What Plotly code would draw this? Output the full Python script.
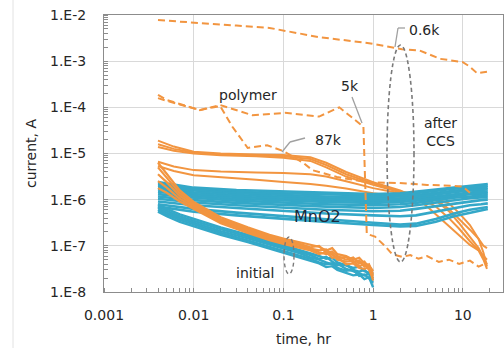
import plotly.graph_objects as go

ORANGE = "#F29540"
CYAN = "#34A8C8"

# ---------------- data (time in hr, current as log10 of A) ----------------
# polymer capacitors, solid (after CCS, long term)
t_poly = [0.004, 0.006, 0.01, 0.02, 0.05, 0.1, 0.2, 0.3, 0.5, 1, 2, 3, 4, 5, 7, 9, 12, 15, 17, 18.6]
poly_a = [-4.72, -4.85, -4.96, -5.00, -5.02, -5.03, -5.08, -5.20, -5.40, -5.62, -5.80, -5.95, -6.15, -6.32, -6.58, -6.78, -6.98, -7.10, -7.22, -7.30]
poly_b = [-4.80, -4.90, -4.98, -5.02, -5.04, -5.06, -5.12, -5.25, -5.45, -5.65, -5.82, -5.88, -5.94, -6.00, -6.20, -6.40, -6.65, -6.85, -7.00, -7.05]
poly_c = [-4.86, -4.94, -5.00, -5.04, -5.06, -5.09, -5.16, -5.30, -5.50, -5.68, -5.84, -5.90, -5.95, -5.98, -6.08, -6.28, -6.55, -6.85, -7.15, -7.45]
poly_d = [-5.18, -5.28, -5.36, -5.39, -5.41, -5.42, -5.45, -5.50, -5.60, -5.75, -5.86, -5.92, -5.96, -6.02, -6.25, -6.50, -6.80, -7.05, -7.25, -7.40]
poly_e = [-5.27, -5.38, -5.47, -5.52, -5.57, -5.62, -5.66, -5.70, -5.76, -5.86, -5.93, -5.98, -6.05, -6.15, -6.40, -6.62, -6.90, -7.10, -7.30, -7.50]

# MnO2 capacitors (cyan band)
t_mno2 = [0.004, 0.006, 0.01, 0.03, 0.1, 0.3, 1, 2, 3, 5, 8, 12, 16, 19]
mno2_1 = [-5.62, -5.68, -5.74, -5.79, -5.82, -5.85, -5.88, -5.86, -5.83, -5.78, -5.74, -5.70, -5.68, -5.66]
mno2_2 = [-5.66, -5.72, -5.77, -5.83, -5.86, -5.89, -5.91, -5.90, -5.86, -5.82, -5.76, -5.74, -5.71, -5.70]
mno2_3 = [-5.70, -5.75, -5.80, -5.86, -5.90, -5.93, -5.95, -5.93, -5.90, -5.85, -5.80, -5.77, -5.75, -5.74]
mno2_4 = [-5.74, -5.79, -5.84, -5.90, -5.94, -5.97, -5.99, -5.97, -5.94, -5.88, -5.84, -5.80, -5.79, -5.78]
mno2_5 = [-5.78, -5.83, -5.88, -5.94, -5.98, -6.01, -6.03, -6.01, -5.98, -5.93, -5.88, -5.85, -5.82, -5.83]
mno2_6 = [-5.83, -5.87, -5.92, -5.98, -6.02, -6.05, -6.07, -6.05, -6.02, -5.97, -5.92, -5.88, -5.87, -5.86]
mno2_7 = [-5.88, -5.92, -5.96, -6.02, -6.07, -6.10, -6.12, -6.10, -6.07, -6.01, -5.96, -5.93, -5.91, -5.90]
mno2_8 = [-5.93, -5.97, -6.01, -6.07, -6.12, -6.15, -6.18, -6.16, -6.12, -6.06, -6.01, -5.97, -5.95, -5.95]
mno2_9 = [-5.98, -6.02, -6.06, -6.12, -6.18, -6.22, -6.25, -6.24, -6.20, -6.14, -6.08, -6.04, -6.01, -6.00]
mno2_10 = [-6.04, -6.08, -6.12, -6.18, -6.25, -6.30, -6.34, -6.36, -6.34, -6.26, -6.18, -6.12, -6.10, -6.08]
mno2_11 = [-6.10, -6.15, -6.20, -6.28, -6.36, -6.42, -6.50, -6.54, -6.52, -6.42, -6.30, -6.22, -6.18, -6.16]
mno2_12 = [-6.15, -6.20, -6.26, -6.34, -6.42, -6.48, -6.55, -6.58, -6.57, -6.48, -6.36, -6.28, -6.22, -6.20]

# initial measurements (first hour)
t_init = [0.004, 0.005, 0.007, 0.01, 0.02, 0.04, 0.07, 0.1, 0.15, 0.2, 0.25, 0.3, 0.35, 0.4, 0.5, 0.6, 0.7, 0.8, 0.9, 1.0]
cyan_init_1 = [-6.10, -6.20, -6.32, -6.42, -6.60, -6.76, -6.90, -6.98, -7.08, -7.16, -7.22, -7.28, -7.26, -7.36, -7.42, -7.48, -7.45, -7.55, -7.58, -7.62]
cyan_init_2 = [-6.14, -6.24, -6.36, -6.46, -6.64, -6.80, -6.94, -7.03, -7.12, -7.20, -7.28, -7.24, -7.34, -7.42, -7.40, -7.52, -7.56, -7.52, -7.62, -7.70]
cyan_init_3 = [-6.18, -6.28, -6.40, -6.50, -6.68, -6.84, -6.98, -7.07, -7.16, -7.25, -7.30, -7.36, -7.40, -7.38, -7.50, -7.55, -7.60, -7.64, -7.60, -7.75]
cyan_init_4 = [-6.22, -6.32, -6.44, -6.54, -6.72, -6.88, -7.02, -7.11, -7.21, -7.28, -7.36, -7.40, -7.38, -7.48, -7.54, -7.52, -7.65, -7.62, -7.70, -7.80]
cyan_init_5 = [-6.26, -6.36, -6.48, -6.58, -6.76, -6.92, -7.06, -7.15, -7.25, -7.33, -7.38, -7.46, -7.44, -7.52, -7.58, -7.64, -7.62, -7.72, -7.68, -7.90]
orange_init_1 = [-5.20, -5.45, -5.80, -6.05, -6.38, -6.60, -6.76, -6.84, -6.92, -6.98, -7.02, -7.10, -7.05, -7.18, -7.22, -7.30, -7.26, -7.38, -7.42, -7.55]
orange_init_2 = [-5.30, -5.52, -5.86, -6.09, -6.42, -6.63, -6.79, -6.87, -6.95, -7.03, -7.00, -7.15, -7.12, -7.22, -7.30, -7.25, -7.38, -7.34, -7.48, -7.60]
orange_init_3 = [-5.45, -5.62, -5.92, -6.12, -6.45, -6.66, -6.82, -6.90, -6.98, -7.06, -7.10, -7.08, -7.20, -7.26, -7.24, -7.36, -7.32, -7.45, -7.40, -7.65]
orange_init_4 = [-5.60, -5.74, -5.98, -6.16, -6.48, -6.69, -6.85, -6.93, -7.01, -7.08, -7.14, -7.18, -7.16, -7.30, -7.34, -7.32, -7.44, -7.40, -7.52, -7.70]
orange_init_5 = [-5.75, -5.85, -6.04, -6.20, -6.51, -6.72, -6.88, -6.96, -7.04, -7.10, -7.18, -7.14, -7.26, -7.24, -7.40, -7.38, -7.48, -7.50, -7.46, -7.75]

# dashed polymer curves (after CCS)
t_06k = [0.004, 0.01, 0.03, 0.07, 0.25, 0.9, 1.5, 2.1, 3.3, 5.6, 10, 12, 14.4, 18.6]
cur_06k = [-2.11, -2.17, -2.23, -2.28, -2.48, -2.61, -2.69, -2.74, -2.77, -2.95, -3.02, -3.12, -3.26, -3.23]
t_5k = [0.004, 0.005, 0.0117, 0.0197, 0.045, 0.104, 0.25, 0.42, 0.78, 0.85, 1.05, 1.35, 1.63, 2.1, 2.6, 3.2, 4, 5.4, 7, 9.1, 12, 15, 17.6]
cur_5k = [-3.73, -3.84, -4.06, -3.95, -4.17, -4.12, -4.20, -4.00, -4.42, -6.74, -6.80, -7.00, -7.18, -7.24, -7.20, -7.28, -7.22, -7.35, -7.30, -7.39, -7.32, -7.45, -7.39]
t_87k = [0.004, 0.005, 0.0117, 0.0197, 0.027, 0.04, 0.066, 0.1, 0.166, 0.21, 0.395, 0.85, 1.97, 4, 8, 10, 12]
cur_87k = [-3.80, -3.86, -4.06, -3.97, -4.42, -4.88, -4.82, -4.95, -5.20, -5.36, -5.51, -5.62, -5.64, -5.68, -5.70, -5.72, -5.85]

# ---------------- figure ----------------
fig = go.Figure()


def add_line(t, logs, color, dash=None, width=2.0):
    fig.add_trace(go.Scatter(
        x=t, y=[10 ** v for v in logs], mode="lines",
        line=dict(color=color, width=width, dash=dash),
        hoverinfo="skip", showlegend=False))


for s in [poly_a, poly_b, poly_c, poly_d, poly_e]:
    add_line(t_poly, s, ORANGE)
for s in [mno2_1, mno2_2, mno2_3, mno2_4, mno2_5, mno2_6, mno2_7, mno2_8,
          mno2_9, mno2_10, mno2_11, mno2_12]:
    add_line(t_mno2, s, CYAN, width=2.6)
for s in [cyan_init_1, cyan_init_2, cyan_init_3, cyan_init_4, cyan_init_5]:
    add_line(t_init, s, CYAN, width=2.4)
for s in [orange_init_1, orange_init_2, orange_init_3, orange_init_4, orange_init_5]:
    add_line(t_init, s, ORANGE, width=2.2)
add_line(t_06k, cur_06k, ORANGE, dash="7px,4px")
add_line(t_5k, cur_5k, ORANGE, dash="7px,4px")
add_line(t_87k, cur_87k, ORANGE, dash="7px,4px")

# plot geometry (pixels) for annotation placement
L, R, T, B = 104, 503, 15, 292
XR = [-3, -3 + (R - L) / 89.7]
YR = [-8, -2]


def lx(px):
    return XR[0] + (px - L) / (R - L) * (XR[1] - XR[0])


def ly(py):
    return YR[1] - (py - T) / (B - T) * (YR[1] - YR[0])


def fx(px):
    return (px - L) / (R - L)


def fy(py):
    return (B - py) / (B - T)


shapes = []
# dashed ellipses
shapes.append(dict(type="circle", xref="paper", yref="paper", x0=fx(387), x1=fx(414), y0=fy(262), y1=fy(45),
                   line=dict(color="#7a7a7a", width=1.6, dash="4px,3px")))
shapes.append(dict(type="circle", xref="paper", yref="paper", x0=fx(284), x1=fx(294), y0=fy(274), y1=fy(237),
                   line=dict(color="#7a7a7a", width=1.4, dash="4px,3px")))
# pointer lines
for (a, b) in [((405, 28), (398, 28)), ((398, 28), (395, 47)),
               ((352, 97), (362, 123)),
               ((305, 138), (290, 142)), ((290, 142), (282, 152))]:
    shapes.append(dict(type="line", xref="paper", yref="paper", x0=fx(a[0]), y0=fy(a[1]), x1=fx(b[0]), y1=fy(b[1]),
                       line=dict(color="#a0a0a0", width=1.3)))
# faint outer frame line on the left
shapes.append(dict(type="line", xref="paper", yref="paper", x0=fx(13), x1=fx(13),
                   y0=fy(0), y1=fy(348), line=dict(color="#e2e2e2", width=1)))

FONT = "DejaVu Sans"
TXT = "#262626"
annotations = []


def note(text, px, py, size=14, color=TXT, bg=None):
    d = dict(text=text, x=fx(px), y=fy(py), xref="paper", yref="paper", showarrow=False,
             font=dict(family=FONT, size=size, color=color), xanchor="center", yanchor="middle")
    if bg:
        d["bgcolor"] = bg
    annotations.append(d)


note("0.6k", 424, 30)
note("5k", 350, 86)
note("polymer", 248, 95)
note("87k", 328, 140)
note("after<br>CCS", 440, 132, bg="white")
note("MnO2", 317, 217, size=16, color="#1b2a3c")
note("initial", 255, 273)

fig.update_layout(
    width=504, height=348,
    margin=dict(l=L, r=504 - R, t=T, b=348 - B, pad=0),
    paper_bgcolor="white", plot_bgcolor="white",
    shapes=shapes, annotations=annotations,
    font=dict(family=FONT, size=14, color=TXT),
)

fig.update_xaxes(
    type="log", range=XR,
    tickvals=[0.001, 0.01, 0.1, 1, 10], ticktext=["0.001", "0.01", "0.1", "1", "10"],
    ticks="", showgrid=True, gridcolor="#d9d9d9", gridwidth=1,
    showline=True, linecolor="#8c8c8c", linewidth=1, mirror=True,
    zeroline=False,
    tickfont=dict(family=FONT, size=14, color=TXT),
    ticklabelstandoff=10,
    minor=dict(ticks="inside", ticklen=4, tickcolor="#8c8c8c", dtick="D1", showgrid=False),
    title=dict(text="time, hr", font=dict(family=FONT, size=14, color=TXT), standoff=12),
)
fig.update_yaxes(
    type="log", range=YR,
    tickvals=[1e-8, 1e-7, 1e-6, 1e-5, 1e-4, 1e-3, 1e-2],
    ticktext=["1.E-8", "1.E-7", "1.E-6", "1.E-5", "1.E-4", "1.E-3", "1.E-2"],
    ticks="", showgrid=True, gridcolor="#d9d9d9", gridwidth=1,
    showline=True, linecolor="#8c8c8c", linewidth=1, mirror=True,
    zeroline=False,
    tickfont=dict(family=FONT, size=14, color=TXT),
    ticklabelstandoff=14,
    minor=dict(ticks="inside", ticklen=4, tickcolor="#8c8c8c", dtick="D1", showgrid=False),
    title=dict(text="current, A", font=dict(family=FONT, size=14, color=TXT), standoff=10),
)

fig.write_html("out.html")
